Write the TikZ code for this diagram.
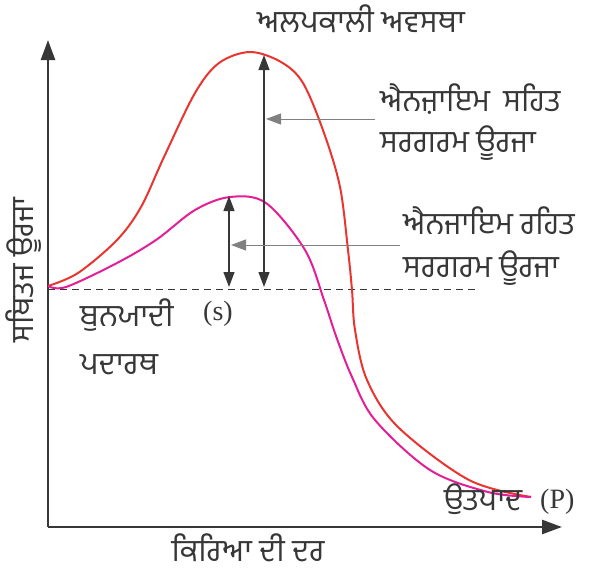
\documentclass[tikz,border=0pt]{standalone}
\usepackage{fontspec}
\newfontfamily\pnb[Script=Gurmukhi]{Hind Jalandhar}
\newfontfamily\rmn{Liberation Serif}
\usetikzlibrary{arrows.meta}

\definecolor{curvered}{RGB}{234,52,48}
\definecolor{curvepink}{RGB}{228,30,150}
\definecolor{axisgray}{RGB}{55,55,55}

\tikzset{
  lbl/.style={font=\pnb\fontsize{31}{33}\selectfont, text=axisgray, inner sep=0pt},
  tag/.style={font=\rmn\fontsize{28}{30}\selectfont, text=axisgray, inner sep=0pt},
  gap/.style={line width=1.2pt, axisgray, {Triangle[length=15pt,width=11pt]}-{Triangle[length=15pt,width=11pt]}},
  pointer/.style={line width=1pt, gray, -{Triangle[length=15pt,width=11pt]}}
}

\begin{document}
\begin{tikzpicture}[x=1pt, y=-1pt]
    \useasboundingbox (0,0) rectangle (613,573);

    % Axes
    \coordinate (origin) at (48,527);
    \coordinate (ytip) at (48,40);
    \coordinate (xtip) at (562,527);
    \draw[line width=2.6pt, axisgray, -{Triangle[length=20pt,width=14pt]}] (origin) -- (ytip);
    \draw[line width=2.6pt, axisgray, -{Triangle[length=20pt,width=14pt]}] (origin) -- (xtip);

    % Substrate level
    \coordinate (base0) at (48,289);
    \coordinate (base1) at (478,289);
    \draw[line width=1pt, dash pattern=on 7pt off 5pt, axisgray] (base0) -- (base1);

    % Energy curves
    \draw[line width=2pt, curvered] plot[smooth, tension=0.55] coordinates {
        (48,286) (78,273) (117,240) (141,207) (164,157) (195,93) (219,63) (250,52)
        (281,62) (303,83) (324,133) (340,187) (348,250) (352,290) (355,330)
        (367,380) (398,427) (469,480) (531,497)};
    \draw[line width=2pt, curvepink] plot[smooth, tension=0.55] coordinates {
        (48,286) (66,287) (117,263) (156,240) (195,210) (230,197) (266,203)
        (305,250) (324,300) (336,336) (352,377) (375,420) (430,470) (488,492) (531,497)};

    % Activation energy arrows
    \coordinate (redtop) at (264,55);
    \coordinate (redbot) at (264,287);
    \coordinate (pinktop) at (229,196);
    \coordinate (pinkbot) at (229,287);
    \draw[gap] (redbot) -- (redtop);
    \draw[gap] (pinkbot) -- (pinktop);

    % Labels
    \node[lbl, anchor=base] (transition) at (361,32) {ਅਲਪਕਾਲੀ ਅਵਸਥਾ};
    \node[lbl, anchor=base west] (with1) at (380,111) {ਐਨਜ਼ਾਇਮ\hspace{6pt} ਸਹਿਤ};
    \node[lbl, anchor=base west] (with2) at (380,152) {ਸਰਗਰਮ ਊਰਜਾ};
    \node[lbl, anchor=base west] (without1) at (403,234) {ਐਨਜਾਇਮ ਰਹਿਤ};
    \node[lbl, anchor=base west] (without2) at (403,277) {ਸਰਗਰਮ ਊਰਜਾ};
    \node[lbl, rotate=90, anchor=base] (yname) at (33,270) {ਸਥਿਤਜ ਊਰਜਾ};
    \node[lbl, anchor=base west] (subst1) at (80,326) {ਬੁਨਯਾਦੀ};
    \node[tag, anchor=base] (stag) at (218,320) {(s)};
    \node[lbl, anchor=base west] (subst2) at (80,374) {ਪਦਾਰਥ};
    \node[lbl, anchor=base west] (product) at (444,510) {ਉਤਪਾਦ};
    \node[tag, anchor=base west] (ptag) at (540,508) {(P)};
    \node[lbl, anchor=base] (xname) at (248,561) {ਕਿਰਿਆ ਦੀ ਦਰ};

    % Pointers to the arrows
    \coordinate (p1start) at (375,119);
    \coordinate (p1end) at (266,119);
    \coordinate (p2start) at (400,245);
    \coordinate (p2end) at (231,245);
    \draw[pointer] (p1start) -- (p1end);
    \draw[pointer] (p2start) -- (p2end);

\end{tikzpicture}
\end{document}
